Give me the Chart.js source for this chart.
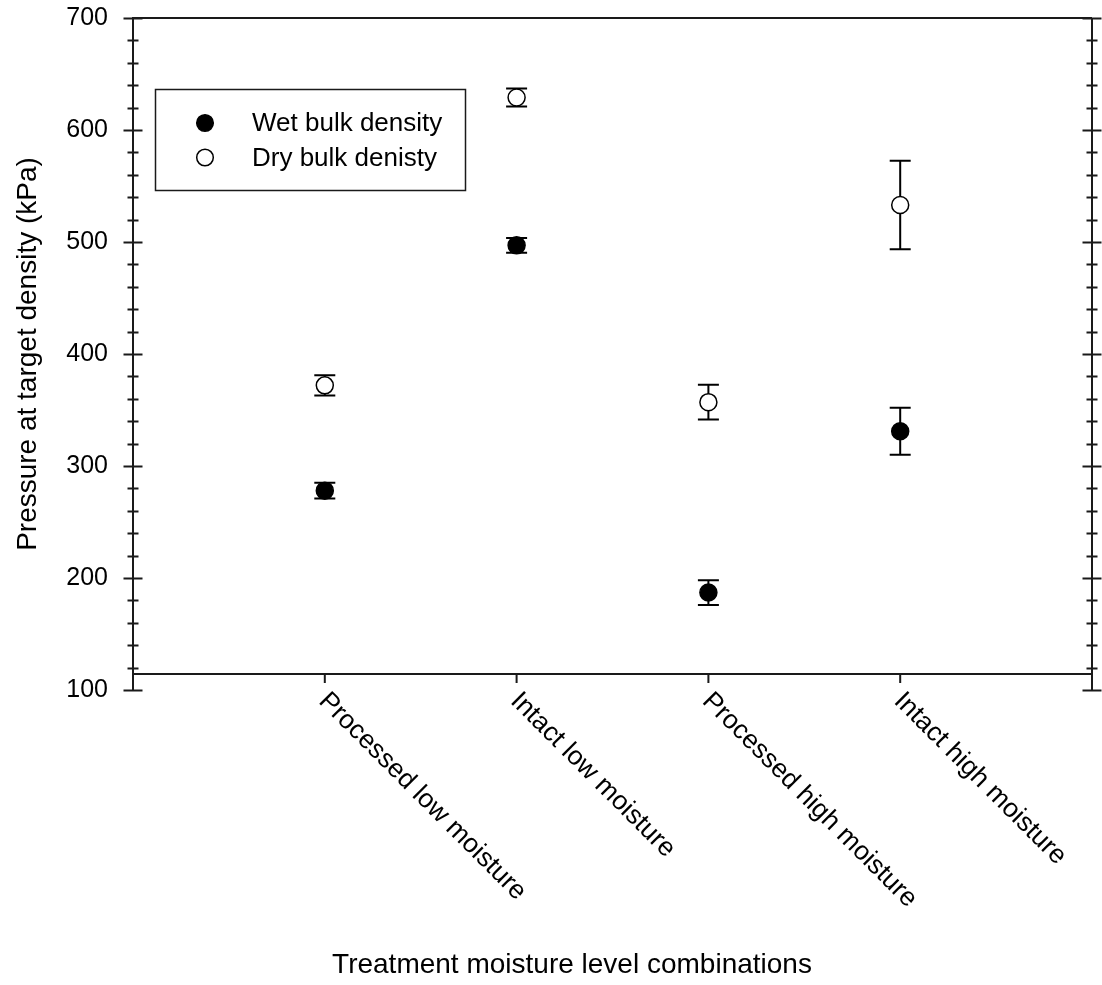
<!DOCTYPE html>
<html>
<head>
<meta charset="utf-8">
<script src="https://cdn.jsdelivr.net/npm/chart.js@4.4.1/dist/chart.umd.min.js"></script>
<style>
  html, body { margin: 0; padding: 0; background: #fff; }
  #wrap { width: 1102px; height: 985px; position: relative; }
</style>
</head>
<body>
<div id="wrap"><canvas id="c"></canvas></div>
<script>
// Treatment combinations along the x axis
const categories = ['Processed low moisture', 'Intact low moisture', 'Processed high moisture', 'Intact high moisture'];
const categoryPositions = [1, 2, 3, 4];

// Pressure at target density (kPa), mean and error
const wetValues = [278, 497, 187, 331];
const wetErrors = [7, 6.5, 11, 21];
const dryValues = [372, 629, 357, 533];
const dryErrors = [9, 8, 15.5, 39.5];

// Axis ticks
const yTickValues = [100, 200, 300, 400, 500, 600, 700];
const yMinorStep = 20;
const xAxisCrossing = 114.3;

const FONT = "'Liberation Sans', Arial, Helvetica, sans-serif";
const INK = '#1a1a1a';

const framePlugin = {
  id: 'frame',
  beforeDatasetsDraw(chart) {
    const { ctx, scales: { x, y } } = chart;
    ctx.save();
    ctx.strokeStyle = '#000';
    ctx.lineWidth = 2;
    [[wetValues, wetErrors], [dryValues, dryErrors]].forEach(([vals, errs]) => {
      vals.forEach((v, i) => {
        const px = x.getPixelForValue(categoryPositions[i]);
        const top = y.getPixelForValue(v + errs[i]);
        const bot = y.getPixelForValue(v - errs[i]);
        ctx.beginPath();
        ctx.moveTo(px, top); ctx.lineTo(px, bot);
        ctx.moveTo(px - 10.5, top); ctx.lineTo(px + 10.5, top);
        ctx.moveTo(px - 10.5, bot); ctx.lineTo(px + 10.5, bot);
        ctx.stroke();
      });
    });
    ctx.restore();
  },
  afterDraw(chart) {
    const { ctx, chartArea: a, scales: { x, y } } = chart;
    ctx.save();
    ctx.strokeStyle = INK;
    ctx.lineWidth = 2;
    ctx.lineCap = 'butt';

    // top frame, right axis, x axis line
    const xAxisY = y.getPixelForValue(xAxisCrossing);
    ctx.beginPath();
    ctx.moveTo(a.left, a.top); ctx.lineTo(a.right, a.top);
    ctx.moveTo(a.right, a.top); ctx.lineTo(a.right, a.bottom);
    ctx.moveTo(a.left, xAxisY); ctx.lineTo(a.right, xAxisY);
    ctx.stroke();

    // crossing ticks on both vertical axes
    ctx.beginPath();
    for (let v = y.min; v <= y.max + 0.001; v += yMinorStep) {
      const py = Math.round(y.getPixelForValue(v)) + 0.5;
      const major = yTickValues.includes(Math.round(v));
      const len = major ? 9.5 : 5.5;
      ctx.moveTo(a.left - len, py); ctx.lineTo(a.left + len, py);
      ctx.moveTo(a.right - len, py); ctx.lineTo(a.right + len, py);
    }
    ctx.stroke();

    // category ticks
    ctx.beginPath();
    categoryPositions.forEach(p => {
      const px = x.getPixelForValue(p);
      ctx.moveTo(px, xAxisY); ctx.lineTo(px, xAxisY + 9);
    });
    ctx.stroke();

    // rotated category labels
    ctx.fillStyle = '#000';
    ctx.font = `26.5px ${FONT}`;
    ctx.textAlign = 'left';
    ctx.textBaseline = 'middle';
    categories.forEach((lab, i) => {
      const px = x.getPixelForValue(categoryPositions[i]);
      ctx.save();
      ctx.translate(px - 2, xAxisY + 23);
      ctx.rotate(Math.PI / 4);
      ctx.fillText(lab, 0, 0);
      ctx.restore();
    });

    // x axis title
    ctx.font = `28px ${FONT}`;
    ctx.textAlign = 'center';
    ctx.fillText('Treatment moisture level combinations', 572, 965);

    // legend box
    ctx.lineWidth = 1.5;
    ctx.strokeStyle = INK;
    ctx.strokeRect(155.5, 89.5, 310, 101);
    const ds = chart.data.datasets;
    ctx.font = `26px ${FONT}`;
    ctx.textAlign = 'left';
    ds.forEach((d, i) => {
      const cy = 123 + i * 34.5;
      ctx.beginPath();
      ctx.arc(205, cy, 8.3, 0, Math.PI * 2);
      ctx.fillStyle = d.pointBackgroundColor;
      ctx.fill();
      ctx.lineWidth = 1.5;
      ctx.strokeStyle = d.pointBorderColor;
      ctx.stroke();
      ctx.fillStyle = '#000';
      ctx.fillText(d.label, 252, cy + 1);
    });
    ctx.restore();
  }
};

new Chart(document.getElementById('c'), {
  type: 'scatter',
  data: {
    datasets: [
      {
        label: 'Wet bulk density',
        data: categoryPositions.map((p, i) => ({ x: p, y: wetValues[i] })),
        pointRadius: 8.5,
        pointBackgroundColor: '#000',
        pointBorderColor: '#000',
        pointBorderWidth: 1.5
      },
      {
        label: 'Dry bulk denisty',
        data: categoryPositions.map((p, i) => ({ x: p, y: dryValues[i] })),
        pointRadius: 8.5,
        pointBackgroundColor: '#fff',
        pointBorderColor: '#000',
        pointBorderWidth: 1.5
      }
    ]
  },
  options: {
    responsive: true,
    maintainAspectRatio: false,
    animation: false,
    layout: { padding: { top: 18, right: 8, bottom: 295, left: 0 } },
    plugins: { legend: { display: false }, tooltip: { enabled: false } },
    scales: {
      x: { type: 'linear', min: 0, max: 5, display: false },
      y: {
        type: 'linear',
        min: 100,
        max: 700,
        afterFit(s) { s.width = 133; },
        afterBuildTicks(s) { s.ticks = yTickValues.map(v => ({ value: v })); },
        grid: { display: false, drawTicks: true, tickLength: 24 },
        border: { display: true, color: INK, width: 2 },
        ticks: { padding: 1, color: '#000', font: { family: FONT, size: 25 } },
        title: {
          display: true,
          text: 'Pressure at target density (kPa)',
          color: '#000',
          font: { family: FONT, size: 28 },
          padding: { top: 11, bottom: 0 }
        }
      }
    }
  },
  plugins: [framePlugin]
});
</script>
</body>
</html>
